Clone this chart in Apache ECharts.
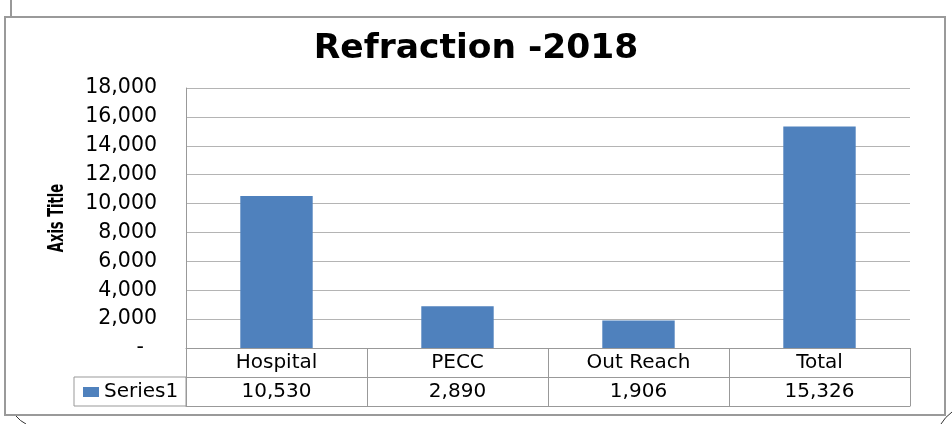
<!DOCTYPE html>
<html>
<head>
<meta charset="utf-8">
<title>Refraction -2018</title>
<script src="https://cdn.jsdelivr.net/npm/echarts@6/dist/echarts.min.js"></script>
<style>
  html, body { margin: 0; padding: 0; background: #fff; }
  #chart { width: 952px; height: 424px; }
</style>
</head>
<body>
<div id="chart"></div>
<script>
// data
const categories = ["Hospital", "PECC", "Out Reach", "Total"];
const seriesName = "Series1";
const values = [10530, 2890, 1906, 15326];
const yMin = 0;
const yMax = 18000;
const yStep = 2000;

const gridColor = "#b4b4b4";
const tableColor = "#999999";
const barColor = "#4F81BD";
const font = "DejaVu Sans";

// Excel accounting style: 0 -> "-"
const fmt = (v) => (v === 0 ? "-  " : Number(v).toLocaleString("en-US"));

const chart = echarts.init(document.getElementById("chart"));

const option = {
  animation: false,
  title: {
    text: "Refraction -2018",
    left: "center",
    top: 32,
    padding: 0,
    textStyle: {
      fontFamily: font,
      fontWeight: "bold",
      fontSize: 34.5,
      color: "#000",
    },
  },
  legend: {
    data: [seriesName],
    left: 83,
    top: 382,
    padding: 0,
    itemWidth: 16,
    itemHeight: 10,
    icon: "rect",
    textStyle: { fontFamily: font, fontSize: 20, color: "#000" },
  },
  grid: {
    left: 186,
    right: 42,
    top: 88,
    bottom: 76,
  },
  xAxis: [
    {
      // header row of the data table
      type: "category",
      data: categories,
      position: "bottom",
      axisLine: { lineStyle: { color: tableColor, width: 1 } },
      axisTick: {
        show: true,
        interval: 0,
        length: 58, // column dividers through both table rows
        lineStyle: { color: tableColor },
      },
      axisLabel: {
        interval: 0,
        margin: 15,
        verticalAlign: "middle",
        fontFamily: font,
        fontSize: 20,
        color: "#000",
      },
    },
    {
      // values row of the data table
      type: "category",
      data: categories,
      position: "bottom",
      offset: 29,
      axisLine: { lineStyle: { color: tableColor, width: 1 } },
      axisTick: { show: false },
      axisLabel: {
        interval: 0,
        margin: 15,
        verticalAlign: "middle",
        fontFamily: font,
        fontSize: 20,
        color: "#000",
        formatter: (v, i) => fmt(values[i]),
      },
    },
    {
      // bottom edge of the table
      type: "category",
      data: categories,
      position: "bottom",
      offset: 58,
      axisLine: { lineStyle: { color: tableColor, width: 1 } },
      axisTick: { show: false },
      axisLabel: { show: false },
    },
  ],
  yAxis: {
    type: "value",
    min: yMin,
    max: yMax,
    interval: yStep,
    axisLine: { show: true, lineStyle: { color: tableColor } },
    axisTick: { show: false },
    axisLabel: {
      margin: 29,
      fontFamily: font,
      fontSize: 20.5,
      color: "#000",
      formatter: fmt,
    },
    splitLine: { lineStyle: { color: gridColor, width: 1 } },
  },
  series: [
    {
      name: seriesName,
      type: "bar",
      xAxisIndex: 0,
      data: values,
      barWidth: "40%",
      itemStyle: { color: barColor },
    },
  ],
  graphic: [
    // y axis title, condensed like the original
    {
      type: "text",
      x: 57,
      y: 218,
      rotation: Math.PI / 2,
      scaleX: 0.66,
      style: {
        text: "Axis Title",
        font: "bold 22px 'DejaVu Sans Condensed', 'DejaVu Sans', sans-serif",
        fill: "#000",
        align: "center",
        verticalAlign: "middle",
      },
    },
    // chart frame
    {
      type: "rect",
      shape: { x: 5, y: 17, width: 940, height: 398 },
      style: { fill: "none", stroke: "#9a9a9a", lineWidth: 2 },
      z: -1,
    },
    // legend cell of the data table
    {
      type: "rect",
      shape: { x: 74, y: 377, width: 112, height: 29 },
      style: { fill: "none", stroke: tableColor, lineWidth: 1 },
    },
    // bits of the page drawing behind the chart
    {
      type: "line",
      shape: { x1: 11, y1: 0, x2: 11, y2: 16 },
      style: { stroke: "#333", lineWidth: 1 },
    },
    {
      type: "bezierCurve",
      shape: { x1: 16, y1: 416, x2: 26, y2: 424, cpx1: 20, cpy1: 421 },
      style: { fill: "none", stroke: "#333", lineWidth: 1 },
    },
    {
      type: "bezierCurve",
      shape: { x1: 952, y1: 412, x2: 941, y2: 424, cpx1: 945, cpy1: 417 },
      style: { fill: "none", stroke: "#333", lineWidth: 1 },
    },
  ],
};

chart.setOption(option);
</script>
</body>
</html>
